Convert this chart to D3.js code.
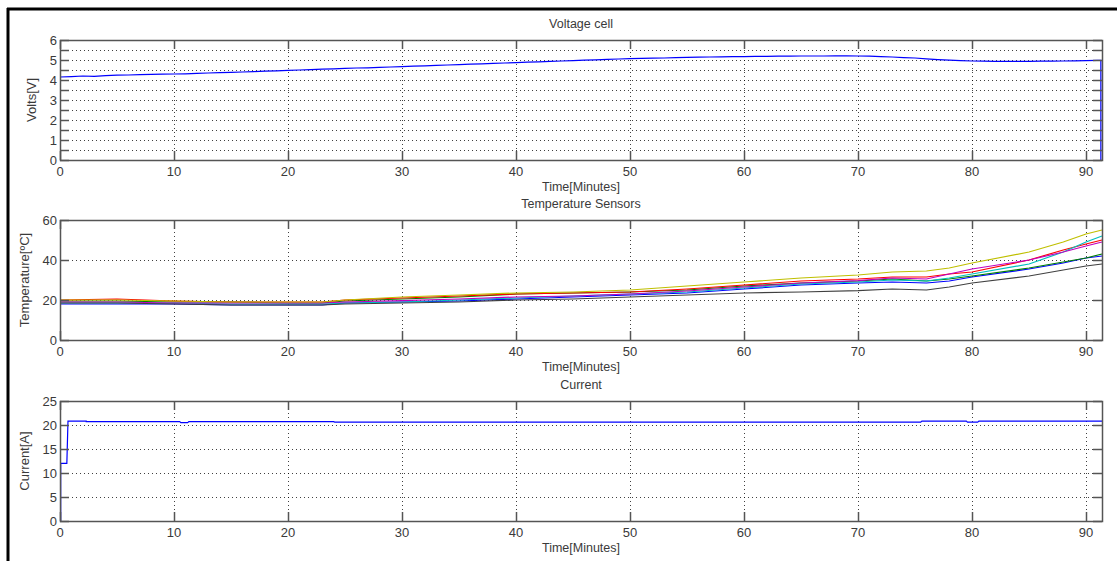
<!DOCTYPE html>
<html>
<head>
<meta charset="utf-8">
<script src="https://cdn.jsdelivr.net/npm/d3@7"></script>
<style>
  body { margin: 0; background: #fff; }
  text { font-family: "Liberation Sans", Arial, sans-serif; fill: #3a3a3a; }
</style>
</head>
<body>
<svg id="vis" width="1117" height="561"></svg>
<script>
// voltage, sampled every minute
const voltTime = d3.range(0, 92).concat([91.3, 91.3])
const voltValues = [
  4.15, 4.17, 4.20, 4.18, 4.22, 4.24, 4.25, 4.27, 4.28, 4.29,
  4.30, 4.31, 4.33, 4.35, 4.37, 4.38, 4.40, 4.42, 4.44, 4.46,
  4.48, 4.50, 4.52, 4.54, 4.56, 4.58, 4.60, 4.61, 4.63, 4.65,
  4.67, 4.69, 4.71, 4.73, 4.75, 4.77, 4.79, 4.81, 4.83, 4.85,
  4.87, 4.89, 4.91, 4.93, 4.95, 4.97, 4.99, 5.01, 5.03, 5.05,
  5.07, 5.08, 5.09, 5.10, 5.12, 5.13, 5.14, 5.15, 5.16, 5.17,
  5.17, 5.18, 5.18, 5.19, 5.19, 5.20, 5.20, 5.20, 5.21, 5.21,
  5.20, 5.19, 5.17, 5.15, 5.12, 5.10, 5.06, 5.02, 4.99, 4.97,
  4.95, 4.94, 4.93, 4.93, 4.93, 4.93, 4.94, 4.94, 4.95, 4.96,
  4.97, 4.98, 4.98, 0
]

// temperature sensors
const tempTime = [0, 5, 10, 15, 20, 23, 25, 30, 35, 40, 45, 50, 55, 60, 65, 70, 73, 76, 78, 80, 85, 88, 90, 91.4]
const tempYellow  = [20, 20, 19.5, 19, 19, 19, 20, 21.5, 22.5, 23.5, 24, 25, 27, 29, 31, 32.5, 34, 34.5, 36, 38.5, 44, 49, 53, 55]
const tempRed     = [20, 20.5, 19.5, 19, 19, 19, 20, 21, 22, 23, 23.5, 24, 25.5, 27.5, 29.5, 30.5, 31.5, 31.5, 33, 34, 40, 45, 48, 50]
const tempMagenta = [19, 19, 18.5, 18.5, 18.5, 18.5, 19, 19.7, 20.5, 21.5, 22, 23, 24.5, 26.5, 28.5, 29.7, 31, 30.5, 33, 35.5, 40, 44, 47, 49]
const tempCyan    = [18.5, 18.5, 18.5, 18, 18, 18, 18.5, 19, 20, 21, 22, 23, 24, 26, 28, 29, 30, 29.5, 31, 33, 38, 44, 49, 52]
const tempGreen   = [19.5, 19.5, 19, 19, 18.5, 18.5, 19.5, 20.5, 21.5, 23, 23.5, 24, 25, 27, 28.5, 29.5, 30.5, 29.5, 30.5, 32, 36, 39, 41, 43]
const tempBlue    = [18, 18, 18, 17.5, 17.5, 17.5, 18.5, 19, 19.5, 20.5, 21.5, 22.5, 23.5, 25.5, 27.5, 28.5, 29, 28.5, 29.5, 31.5, 35.5, 38.5, 41, 42]
const tempGray    = [18.5, 18.5, 18, 17.5, 17.5, 17.5, 18, 18.5, 19, 20, 20.5, 21.5, 22.5, 23.5, 24, 24.7, 25.5, 25, 26.5, 28.5, 32, 35, 37, 38]
const tempSeries = [
  { color: '#0000ff', values: tempBlue },
  { color: '#008000', values: tempGreen },
  { color: '#ff0000', values: tempRed },
  { color: '#00bfbf', values: tempCyan },
  { color: '#bf00bf', values: tempMagenta },
  { color: '#bfbf00', values: tempYellow },
  { color: '#404040', values: tempGray }
]

// current
const currTime   = [0, 0.06, 0.06, 0.6, 0.7, 2.3, 2.3, 10.5, 10.6, 11.2, 11.3, 24, 24.1, 75.5, 75.6, 79.5, 79.6, 80.5, 80.6, 91.4]
const currValues = [0, 0, 12, 12, 20.8, 20.8, 20.7, 20.7, 20.5, 20.5, 20.7, 20.7, 20.6, 20.6, 20.8, 20.8, 20.6, 20.6, 20.8, 20.8]

const xTicks = d3.range(0, 100, 10)
const left = 60, right = 1102

const svg = d3.select('#vis')

// outer frame
svg.append('line').attr('x1', 7).attr('x2', 1117).attr('y1', 9).attr('y2', 9)
  .attr('stroke', '#000').attr('stroke-width', 3)
svg.append('line').attr('x1', 8).attr('x2', 8).attr('y1', 8).attr('y2', 561)
  .attr('stroke', '#000').attr('stroke-width', 3)

panel({
  top: 40, bottom: 160, domain: [0, 6],
  ticks: d3.range(0, 6.5, 0.5), labelEvery: 1,
  title: 'Voltage cell', ylabel: 'Volts[V]', ylabelX: 36,
  lines: [{ color: '#0000ff', x: voltTime, y: voltValues }]
})
panel({
  top: 220, bottom: 340, domain: [0, 60],
  ticks: [0, 20, 40, 60], labelEvery: 20,
  title: 'Temperature Sensors', ylabel: 'Temperature[ºC]', ylabelX: 29,
  lines: tempSeries.map(s => ({ color: s.color, x: tempTime, y: s.values }))
})
panel({
  top: 401, bottom: 521, domain: [0, 25],
  ticks: d3.range(0, 30, 5), labelEvery: 5,
  title: 'Current', ylabel: 'Current[A]', ylabelX: 29,
  lines: [{ color: '#0000ff', x: currTime, y: currValues }]
})

function panel (p) {
  const x = d3.scaleLinear().domain([0, 91.4]).range([left, right])
  const y = d3.scaleLinear().domain(p.domain).range([p.bottom, p.top])
  const g = svg.append('g')
  const tl = 9

  // grid
  g.selectAll('.gx').data(xTicks).enter().append('line')
    .attr('x1', d => Math.round(x(d)) + 0.5).attr('x2', d => Math.round(x(d)) + 0.5)
    .attr('y1', p.top).attr('y2', p.bottom)
    .attr('stroke', '#000').attr('stroke-opacity', 0.75).attr('stroke-dasharray', '1,3')
  g.selectAll('.gy').data(p.ticks.slice(1, -1)).enter().append('line')
    .attr('x1', left).attr('x2', right)
    .attr('y1', d => Math.round(y(d)) + 0.5).attr('y2', d => Math.round(y(d)) + 0.5)
    .attr('stroke', '#000').attr('stroke-opacity', 0.75).attr('stroke-dasharray', '1,3')

  // data
  const line = d3.line().x(d => x(d[0])).y(d => y(d[1]))
  for (const s of p.lines) {
    g.append('path')
      .attr('d', line(s.x.map((t, i) => [t, s.y[i]])))
      .attr('fill', 'none').attr('stroke', s.color).attr('stroke-width', 1.2)
  }

  // axes with inward ticks on all sides
  const ax = g.append('g').attr('stroke', '#555').attr('stroke-width', 1.5)
  for (const d of xTicks) {
    const xx = Math.round(x(d)) + 0.5
    ax.append('line').attr('x1', xx).attr('x2', xx).attr('y1', p.bottom).attr('y2', p.bottom - tl)
    ax.append('line').attr('x1', xx).attr('x2', xx).attr('y1', p.top).attr('y2', p.top + tl)
  }
  for (const d of p.ticks) {
    const yy = Math.round(y(d)) + 0.5
    ax.append('line').attr('x1', left).attr('x2', left + tl).attr('y1', yy).attr('y2', yy)
    ax.append('line').attr('x1', right).attr('x2', right - tl).attr('y1', yy).attr('y2', yy)
  }
  g.append('rect')
    .attr('x', left + 0.5).attr('y', p.top + 0.5)
    .attr('width', right - left).attr('height', p.bottom - p.top)
    .attr('fill', 'none').attr('stroke', '#555').attr('stroke-width', 1.5)

  // tick labels
  g.selectAll('.xl').data(xTicks).enter().append('text')
    .attr('x', d => x(d)).attr('y', p.bottom + 16)
    .attr('text-anchor', 'middle').attr('font-size', 13)
    .text(d => d)
  g.selectAll('.yl').data(p.ticks.filter(d => d % p.labelEvery === 0)).enter().append('text')
    .attr('x', left - 3).attr('y', d => y(d) + 5)
    .attr('text-anchor', 'end').attr('font-size', 13)
    .text(d => d)

  // labels
  g.append('text').attr('x', (left + right) / 2).attr('y', p.top - 12)
    .attr('text-anchor', 'middle').attr('font-size', 12.5).text(p.title)
  g.append('text').attr('x', (left + right) / 2).attr('y', p.bottom + 31)
    .attr('text-anchor', 'middle').attr('font-size', 12.5).text('Time[Minutes]')
  g.append('text')
    .attr('transform', `translate(${p.ylabelX},${(p.top + p.bottom) / 2}) rotate(-90)`)
    .attr('text-anchor', 'middle').attr('font-size', 13).text(p.ylabel)
}
</script>
</body>
</html>
